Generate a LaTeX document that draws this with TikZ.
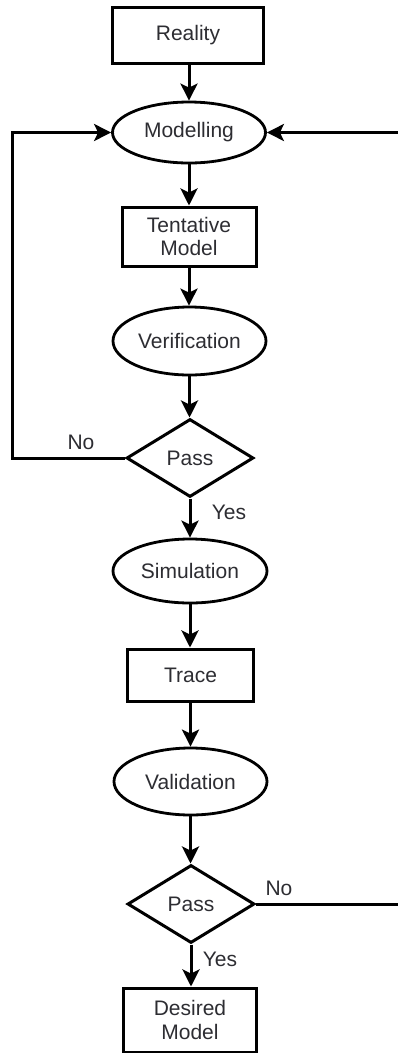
\documentclass[tikz,border=0pt]{standalone}
\usepackage{fontspec}
\setmainfont{Liberation Sans}
\usetikzlibrary{shapes.geometric,arrows.meta}
\definecolor{txt}{RGB}{45,45,50}
\begin{document}
\begin{tikzpicture}[x=1pt,y=-1pt,
  every node/.style={font=\fontsize{21}{23.5}\selectfont, text=txt},
  boxnode/.style={draw=black, line width=3pt, rectangle, inner sep=0pt, align=center},
  ellnode/.style={draw=black, line width=2.8pt, ellipse, inner sep=0pt, minimum width=153pt},
  decnode/.style={draw=black, line width=3pt, diamond, inner sep=0pt, minimum width=127pt, minimum height=78pt},
  flow/.style={line width=3pt, -{Stealth[length=17pt, width=17pt, inset=4pt]}},
  lbl/.style={inner sep=0pt}]
\fill[white] (0,0) rectangle (397,1053);
\useasboundingbox (0,0) rectangle (397,1053);

\node[boxnode, minimum width=151pt, minimum height=56pt] (reality) at (188,35) {Reality};
\node[ellnode, minimum height=61pt] (modelling) at (189,132.5) {Modelling};
\node[boxnode, minimum width=134pt, minimum height=59pt] (tentative) at (189,236.5) {Tentative\\Model};
\node[ellnode, minimum height=68pt] (verification) at (189.5,341) {Verification};
\node[decnode] (pass1) at (190,458) {Pass};
\node[ellnode, minimum width=154pt, minimum height=64pt] (simulation) at (190,571) {Simulation};
\node[boxnode, minimum width=126pt, minimum height=52pt] (trace) at (190.5,675) {Trace};
\node[ellnode, minimum height=67pt] (validation) at (190.5,781.5) {Validation};
\node[decnode] (pass2) at (191,904) {Pass};
\node[boxnode, minimum width=133pt, minimum height=64pt] (desired) at (190,1020) {Desired\\Model};

\node[lbl] (no1) at (81,442) {No};
\node[lbl] (yes1) at (229,512) {Yes};
\node[lbl] (no2) at (279,888) {No};
\node[lbl] (yes2) at (220,959) {Yes};

\coordinate (lc) at (12,458);
\coordinate (rc) at (404,904);

\draw[flow] (reality.south -| modelling.north) -- (modelling.north);
\draw[flow] (modelling.south) -- (modelling.south |- tentative.north);
\draw[flow] (tentative.south) -- (tentative.south |- verification.north);
\draw[flow] (verification.south) -- (verification.south |- pass1.north);
\draw[flow] (pass1.south) -- (pass1.south |- simulation.north);
\draw[flow] (simulation.south) -- (simulation.south |- trace.north);
\draw[flow] (trace.south) -- (trace.south |- validation.north);
\draw[flow] (validation.south) -- (validation.south |- pass2.north);
\draw[flow] (pass2.south) -- (pass2.south |- desired.north);

\draw[flow] (pass1.west) -- (lc) |- (modelling.west);
\draw[flow] (pass2.east) -- (rc) |- (modelling.east);
\end{tikzpicture}
\end{document}
